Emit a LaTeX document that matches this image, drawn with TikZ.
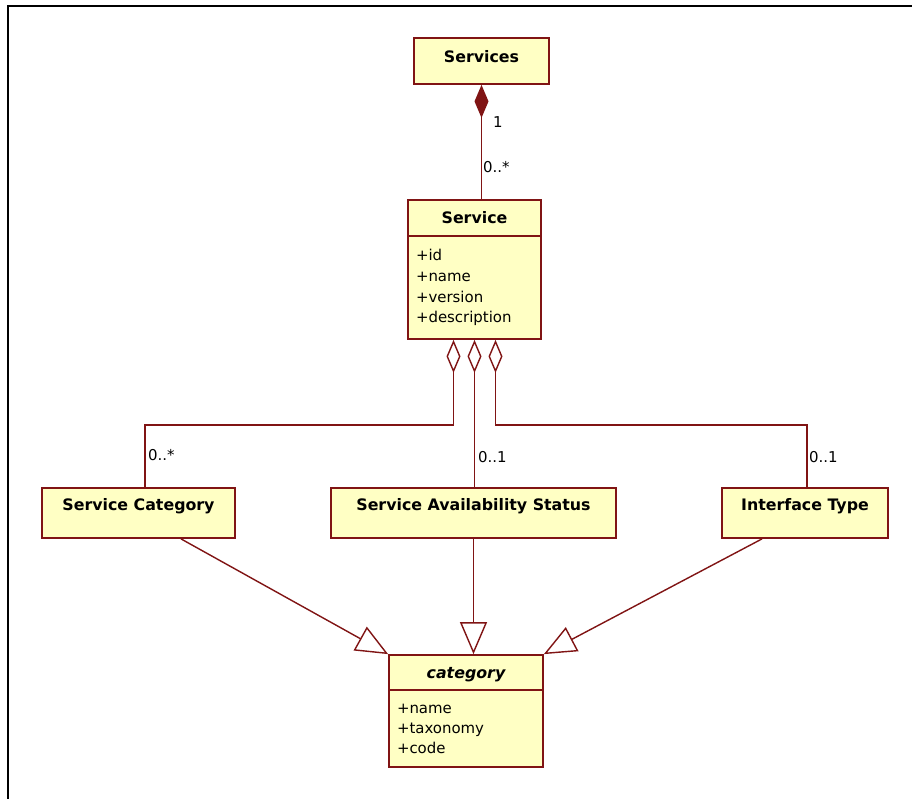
\documentclass[tikz,border=0pt]{standalone}
\usepackage{fontspec}
\setmainfont{DejaVu Sans}
\usepackage{tikz}
\usetikzlibrary{arrows.meta,positioning}
\definecolor{umlred}{RGB}{128,20,20}
\definecolor{umlfill}{RGB}{255,255,196}
\tikzset{
  umlbox/.style={draw=umlred, fill=umlfill, line width=1pt, inner sep=0pt, text height=7pt,
    font=\bfseries\fontsize{9}{11}\selectfont},
  headbox/.style={text depth=0.4pt},
  leafbox/.style={minimum height=10mm, text depth=9.5pt},
  attrbox/.style={draw=umlred, fill=umlfill, line width=1pt, inner ysep=0pt, inner xsep=1.6mm,
    align=left, font=\fontsize{8.5}{11.9}\selectfont},
  mult/.style={anchor=west, inner sep=1pt, font=\fontsize{8.5}{10}\selectfont},
  assoc/.style={draw=umlred, line width=0.8pt},
  compo/.style={assoc, {Diamond[length=6.6mm,width=2.8mm,fill=umlred]}-},
  aggr/.style={assoc, {Diamond[open,length=6.6mm,width=2.8mm,fill=white]}-},
  gen/.style={assoc, -{Triangle[open,length=6.4mm,width=5.4mm,fill=white]}}
}
\begin{document}
\begin{tikzpicture}[x=0.2mm,y=-0.2mm]
  \useasboundingbox (0,0) rectangle (912,799);
  \draw[line width=1.2pt] (912,6) -- (8,6) -- (8,799);

  \node[umlbox, minimum width=27mm, minimum height=9.2mm, text depth=5pt] (services) at (481.5,61) {Services};
  \node[umlbox, headbox, minimum width=26.6mm, minimum height=7.2mm] (svchead) at (474.5,218) {Service};
  \node[attrbox, text width=23.4mm, minimum height=20.6mm, below=-1pt of svchead] (svcattr)
    {+id\\+name\\+version\\+description\\[-5pt]};

  \node[umlbox, leafbox, minimum width=38.6mm] (svccat) at (138.5,513) {Service Category};
  \node[umlbox, leafbox, minimum width=57mm] (sas) at (473.5,513) {Service Availability Status};
  \node[umlbox, leafbox, minimum width=33.2mm] (iface) at (805,513) {Interface Type};

  \node[umlbox, headbox, font=\bfseries\itshape\fontsize{9}{11}\selectfont,
    minimum width=30.8mm, minimum height=7mm] (cathead) at (466,672.5) {category};
  \node[attrbox, text width=27.6mm, minimum height=15.4mm, below=-1pt of cathead,
    font=\fontsize{8.5}{11.4}\selectfont] (catattr) {+name\\+taxonomy\\+code};

  \draw[compo] (services.south) -- (services.south |- svchead.north);
  \node[mult] (m1) at (491,122) {1};
  \node[mult] (m2) at (481,167) {0..*};

  \coordinate (agg1) at ([xshift=-4.2mm]svcattr.south);
  \coordinate (agg2) at (svcattr.south);
  \coordinate (agg3) at ([xshift=4.2mm]svcattr.south);
  \draw[aggr] (agg1) -- ++(0,85) -| ([xshift=1.3mm]svccat.north);
  \draw[aggr] (agg2) -- (agg2 |- sas.north);
  \draw[aggr] (agg3) -- ++(0,85) -| ([xshift=0.4mm]iface.north);
  \node[mult] (m3) at (146,455) {0..*};
  \node[mult] (m4) at (476,457) {0..1};
  \node[mult] (m5) at (807,457) {0..1};

  \draw[gen] ([xshift=8.5mm]svccat.south) -- (cathead.north west);
  \draw[gen] (sas.south) -- (sas.south |- cathead.north);
  \draw[gen] ([xshift=-8.6mm]iface.south) -- (cathead.north east);
\end{tikzpicture}
\end{document}
